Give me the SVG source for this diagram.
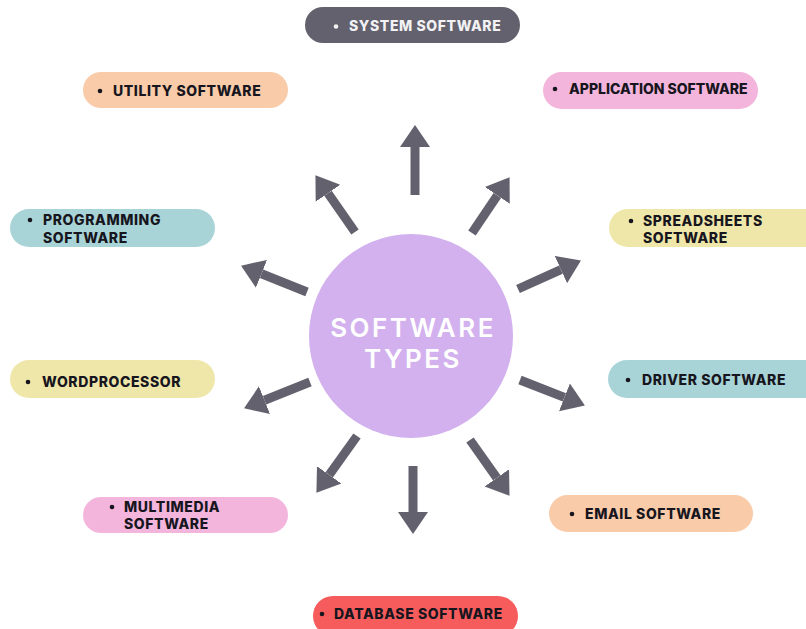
<svg xmlns="http://www.w3.org/2000/svg" width="806" height="629" viewBox="0 0 806 629">
  <defs>
    <marker id="head" markerUnits="userSpaceOnUse" markerWidth="24" markerHeight="32" viewBox="0 -16 24 32" refX="0" refY="0" orient="auto">
      <path d="M0,-15 L22,0 L0,15 z" fill="#62616d"/>
    </marker>
    <style>
      .pill { stroke: none; }
      .peach { fill: #f9cba9; }
      .pink { fill: #f3b5dc; }
      .teal { fill: #a9d4d7; }
      .yellow { fill: #efe7aa; }
      .label { font-family: Inter, "Liberation Sans", sans-serif; font-weight: 800; font-size: 14px; fill: #17161e; letter-spacing: 0.6px; }
      .tight { letter-spacing: 0px; }
      .dot { fill: #17161e; }
      .arrow { stroke: #62616d; stroke-width: 9; fill: none; marker-end: url(#head); }
      .title { font-family: Inter, "Liberation Sans", sans-serif; font-weight: 600; font-size: 26px; fill: #ffffff; letter-spacing: 2.5px; text-anchor: middle; }
    </style>
  </defs>

  <rect width="806" height="629" fill="#ffffff"/>

  <!-- arrows radiating from the hub -->
  <g id="connectors">
    <line class="arrow" x1="415" y1="195" x2="415" y2="147"/>
    <line class="arrow" x1="355" y1="232" x2="328" y2="193.2"/>
    <line class="arrow" x1="472" y1="233" x2="497.3" y2="195.4"/>
    <line class="arrow" x1="307" y1="292" x2="261.5" y2="273.8"/>
    <line class="arrow" x1="518" y1="289" x2="560.9" y2="269.6"/>
    <line class="arrow" x1="310" y1="382" x2="264.5" y2="400.2"/>
    <line class="arrow" x1="520" y1="380" x2="564.4" y2="397.4"/>
    <line class="arrow" x1="357" y1="436" x2="329.2" y2="474.9"/>
    <line class="arrow" x1="413" y1="466" x2="413" y2="512"/>
    <line class="arrow" x1="470" y1="440" x2="496.8" y2="477.9"/>
  </g>

  <!-- hub -->
  <g id="center">
    <circle cx="411" cy="336" r="102" fill="#d2b1ee"/>
    <text class="title" x="413" y="337">SOFTWARE</text>
    <text class="title" x="413" y="368">TYPES</text>
  </g>

  <g id="system">
    <rect class="pill" x="305" y="7" width="215" height="36" rx="18" fill="#62616d"/>
    <circle cx="336" cy="26.5" r="2.3" fill="#f2f2f4"/>
    <text class="label" x="349" y="31" style="fill:#f2f2f4">SYSTEM SOFTWARE</text>
  </g>

  <g id="utility">
    <rect class="pill peach" x="83" y="72" width="205" height="36" rx="18"/>
    <circle class="dot" cx="100" cy="91" r="2.3"/>
    <text class="label" x="113" y="96">UTILITY SOFTWARE</text>
  </g>

  <g id="application">
    <rect class="pill pink" x="543" y="72" width="215" height="37" rx="18.5"/>
    <circle class="dot" cx="555" cy="89" r="2.3"/>
    <text class="label tight" x="569" y="94">APPLICATION SOFTWARE</text>
  </g>

  <g id="programming">
    <rect class="pill teal" x="10" y="209" width="205" height="38" rx="19"/>
    <circle class="dot" cx="30" cy="220" r="2.3"/>
    <text class="label" x="43" y="225">PROGRAMMING</text>
    <text class="label" x="43" y="243">SOFTWARE</text>
  </g>

  <g id="spreadsheets">
    <rect class="pill yellow" x="609" y="209" width="215" height="38" rx="19"/>
    <circle class="dot" cx="631" cy="221" r="2.3"/>
    <text class="label" x="643" y="226">SPREADSHEETS</text>
    <text class="label" x="643" y="243">SOFTWARE</text>
  </g>

  <g id="wordprocessor">
    <rect class="pill yellow" x="10" y="360" width="205" height="38" rx="19"/>
    <circle class="dot" cx="28" cy="382" r="2.3"/>
    <text class="label" x="42" y="387">WORDPROCESSOR</text>
  </g>

  <g id="driver">
    <rect class="pill teal" x="608" y="360" width="215" height="38" rx="19"/>
    <circle class="dot" cx="628" cy="380" r="2.3"/>
    <text class="label" x="642" y="385">DRIVER SOFTWARE</text>
  </g>

  <g id="multimedia">
    <rect class="pill pink" x="83" y="497" width="205" height="36" rx="18"/>
    <circle class="dot" cx="112" cy="507" r="2.3"/>
    <text class="label" x="124" y="512">MULTIMEDIA</text>
    <text class="label" x="124" y="529">SOFTWARE</text>
  </g>

  <g id="email">
    <rect class="pill peach" x="549" y="495" width="204" height="37" rx="18.5"/>
    <circle class="dot" cx="572" cy="514" r="2.3"/>
    <text class="label" x="585" y="519">EMAIL SOFTWARE</text>
  </g>

  <g id="database">
    <rect class="pill" x="313" y="596" width="205" height="40" rx="20" fill="#f75c5c"/>
    <circle class="dot" cx="322" cy="614" r="2.3"/>
    <text class="label" x="334" y="619">DATABASE SOFTWARE</text>
  </g>
</svg>
